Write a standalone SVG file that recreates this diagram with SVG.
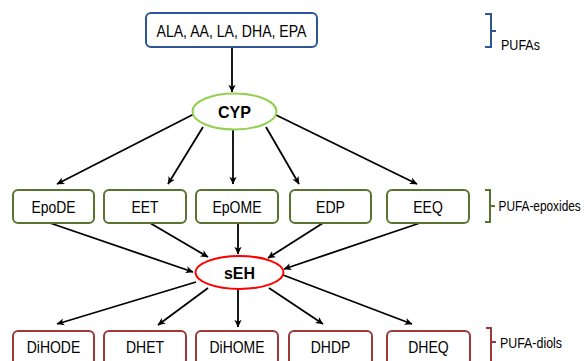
<svg xmlns="http://www.w3.org/2000/svg" width="588" height="361" viewBox="0 0 588 361">
<defs>
<marker id="arr" viewBox="0 0 10 10" refX="9" refY="5" markerWidth="8" markerHeight="8" orient="auto" markerUnits="userSpaceOnUse">
<path d="M0,0.5 L9.5,5 L0,9.5 L2.5,5 z" fill="#000"/>
</marker>
<style>
.lbl{font-family:"Liberation Sans",Arial,sans-serif;font-size:17px;fill:#000;text-anchor:middle}
.side{font-family:"Liberation Sans",Arial,sans-serif;font-size:15px;fill:#000}
.bold{font-family:"Liberation Sans",Arial,sans-serif;font-size:17px;font-weight:bold;fill:#000;text-anchor:middle}
.blue{fill:#fff;stroke:#2f5597;stroke-width:2}
.grn{fill:#fff;stroke:#5a7330;stroke-width:2}
.red{fill:#fff;stroke:#9b3a38;stroke-width:2}
.conn line{stroke:#000;stroke-width:1.8;marker-end:url(#arr)}
.br{fill:none;stroke-width:2}
</style>
</defs>
<rect width="588" height="361" fill="#fff"/>
<g id="connectors" class="conn">
<line x1="232" y1="47" x2="232" y2="92"/>
<line x1="194" y1="114" x2="57" y2="184"/>
<line x1="203" y1="127" x2="168" y2="184"/>
<line x1="233" y1="130" x2="233" y2="184"/>
<line x1="266" y1="127" x2="299" y2="184"/>
<line x1="276" y1="115" x2="417" y2="184"/>
<line x1="50" y1="223" x2="193" y2="272"/>
<line x1="150" y1="223" x2="208" y2="257"/>
<line x1="238" y1="223" x2="238" y2="254"/>
<line x1="323" y1="223" x2="268" y2="258"/>
<line x1="420" y1="223" x2="284" y2="269"/>
<line x1="196" y1="282" x2="57" y2="324"/>
<line x1="208" y1="288" x2="158" y2="325"/>
<line x1="238" y1="289" x2="238" y2="327"/>
<line x1="269" y1="288" x2="323" y2="324"/>
<line x1="283" y1="275" x2="412" y2="324"/>
</g>
<g id="pufas">
<rect class="blue" x="146" y="13" width="171" height="34" rx="5"/>
<text class="lbl" x="231.5" y="37" textLength="150" lengthAdjust="spacingAndGlyphs">ALA, AA, LA, DHA, EPA</text>
</g>
<g id="cyp">
<ellipse cx="234.5" cy="111.5" rx="42" ry="18" fill="#fff" stroke="#92d050" stroke-width="2"/>
<text class="bold" x="234.5" y="117.5" textLength="33" lengthAdjust="spacingAndGlyphs">CYP</text>
</g>
<g id="epode"><rect class="grn" x="13" y="190" width="81" height="33" rx="5"/><text class="lbl" x="53.5" y="213" textLength="44" lengthAdjust="spacingAndGlyphs">EpoDE</text></g>
<g id="eet"><rect class="grn" x="104" y="190" width="82" height="33" rx="5"/><text class="lbl" x="145" y="213" textLength="27" lengthAdjust="spacingAndGlyphs">EET</text></g>
<g id="epome"><rect class="grn" x="196" y="190" width="82" height="33" rx="5"/><text class="lbl" x="237" y="213" textLength="49" lengthAdjust="spacingAndGlyphs">EpOME</text></g>
<g id="edp"><rect class="grn" x="290" y="190" width="81" height="33" rx="5"/><text class="lbl" x="330.5" y="213" textLength="29" lengthAdjust="spacingAndGlyphs">EDP</text></g>
<g id="eeq"><rect class="grn" x="387" y="190" width="82" height="33" rx="5"/><text class="lbl" x="428" y="213" textLength="29.5" lengthAdjust="spacingAndGlyphs">EEQ</text></g>
<g id="seh">
<ellipse cx="239.5" cy="272.5" rx="44" ry="16.5" fill="#fff" stroke="#ff0000" stroke-width="2"/>
<text class="bold" x="239.5" y="278.5" textLength="31" lengthAdjust="spacingAndGlyphs">sEH</text>
</g>
<g id="dihode"><rect class="red" x="13" y="331" width="81" height="34" rx="5"/><text class="lbl" x="53.5" y="353" textLength="53.5" lengthAdjust="spacingAndGlyphs">DiHODE</text></g>
<g id="dhet"><rect class="red" x="104" y="331" width="82" height="34" rx="5"/><text class="lbl" x="145" y="353" textLength="38" lengthAdjust="spacingAndGlyphs">DHET</text></g>
<g id="dihome"><rect class="red" x="196" y="331" width="82" height="34" rx="5"/><text class="lbl" x="237" y="353" textLength="55" lengthAdjust="spacingAndGlyphs">DiHOME</text></g>
<g id="dhdp"><rect class="red" x="289" y="331" width="83" height="34" rx="5"/><text class="lbl" x="330.5" y="353" textLength="39.5" lengthAdjust="spacingAndGlyphs">DHDP</text></g>
<g id="dheq"><rect class="red" x="387" y="331" width="83" height="34" rx="5"/><text class="lbl" x="428.5" y="353" textLength="40.5" lengthAdjust="spacingAndGlyphs">DHEQ</text></g>
<g id="bracket-pufas">
<path class="br" stroke="#2f5597" d="M485,14 H491 V47 H485 M491,31 H496"/>
<text class="side" x="501" y="50" textLength="39" lengthAdjust="spacingAndGlyphs">PUFAs</text>
</g>
<g id="bracket-epoxides">
<path class="br" stroke="#5a7330" d="M485,190 H490 V222 H485 M490,206 H495"/>
<text class="side" transform="translate(498.5,211) scale(0.79,1)" x="0" y="0">PUFA-epoxides</text>
</g>
<g id="bracket-diols">
<path class="br" stroke="#9b3a38" d="M486,328 H491 V365 M491,342 H496"/>
<text class="side" x="500" y="348" textLength="62" lengthAdjust="spacingAndGlyphs">PUFA-diols</text>
</g>
</svg>
